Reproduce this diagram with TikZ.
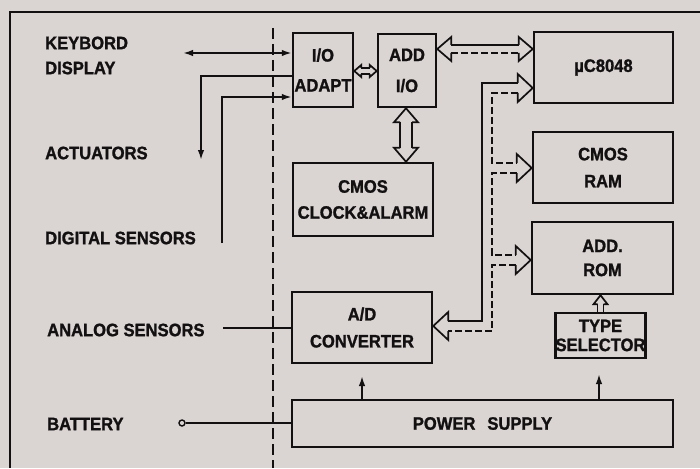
\documentclass[tikz,border=0pt]{standalone}
\usepackage{fontspec}
\setmainfont{Liberation Sans}[FakeStretch=0.92, BoldFeatures={FakeBold=1.3}]
\usetikzlibrary{calc,arrows.meta}
\definecolor{paper}{RGB}{218,212,211}
\definecolor{ink}{RGB}{18,16,16}
\newcommand\dgfont{\bfseries\fontsize{18}{22}\selectfont}
\newcommand\bxf[1]{\bfseries\fontsize{18}{#1}\selectfont}
\newcommand\hhead[5]{\draw[bus] ($(#1)+({-(#2)*(#3)},{-(#5)})$) -- ($(#1)+({-(#2)*(#3)},{-(#4)})$) -- (#1) -- ($(#1)+({-(#2)*(#3)},{#4})$) -- ($(#1)+({-(#2)*(#3)},{#5})$);}
\newcommand\vhead[5]{\draw[bus] ($(#1)+({-(#5)},{-(#2)*(#3)})$) -- ($(#1)+({-(#4)},{-(#2)*(#3)})$) -- (#1) -- ($(#1)+({#4},{-(#2)*(#3)})$) -- ($(#1)+({#5},{-(#2)*(#3)})$);}
\begin{document}
\begin{tikzpicture}[x=1pt,y=-1pt,
  box/.style={draw=ink, line width=2.5pt, align=center, inner sep=0pt, text=ink},
  lbl/.style={anchor=west, inner sep=0pt, font=\dgfont, text=ink},
  wire/.style={draw=ink, line width=1.8pt},
  bus/.style={draw=ink, line width=1.7pt},
  busd/.style={bus, dash pattern=on 7pt off 3pt},
  tip/.style={-{Latex[length=10pt,width=6.5pt]}},
  dtip/.style={{Latex[length=10pt,width=6.5pt]}-{Latex[length=10pt,width=6.5pt]}}]
\fill[paper] (0,0) rectangle (700,468);
\useasboundingbox (0,0) rectangle (700,468);
% frame and divider
\draw[ink, line width=2.6pt] (10,468) -- (10,12) -- (700,12);
\coordinate (divT) at (273,28);
\coordinate (divB) at (273,468);
\draw[ink, line width=1.5pt, dash pattern=on 11pt off 5pt] (divT) -- (divB);
% boxes
\node[box, minimum width=60pt, minimum height=74pt, font={\bxf{30}}] (ioa) at (323,70) {I/O\\ADAPT};
\node[box, minimum width=58pt, minimum height=73pt, font={\bxf{31}}] (addio) at (407,70.5) {ADD\\I/O};
\node[box, minimum width=139pt, minimum height=71pt, font={\bxf{22}}] (uc) at (603.5,67.5) {µC8048};
\node[box, minimum width=140pt, minimum height=71pt, font={\bxf{27}}] (ram) at (603,167.5) {CMOS\\RAM};
\node[box, minimum width=141pt, minimum height=72pt, font={\bxf{24}}] (rom) at (602.5,258) {ADD.\\ROM};
\node[box, minimum width=87pt, minimum height=45pt, font={\bxf{19}}] (typ) at (600.5,335.5) {TYPE\\SELECTOR};
\node[box, minimum width=140pt, minimum height=71pt, font={\bxf{27}}] (adc) at (362,327.5) {A/D\\CONVERTER};
\node[box, minimum width=140pt, minimum height=73pt, font={\bxf{26}}] (clk) at (363,199.5) {CMOS\\CLOCK\&ALARM};
\node[box, minimum width=381pt, minimum height=47pt, font={\bxf{22}}] (ps) at (482.5,423.5) {POWER\hspace{12pt}SUPPLY};
% left labels
\node[lbl] (kbd) at (45,43) {KEYBORD};
\node[lbl] (dsp) at (45,68) {DISPLAY};
\node[lbl] (act) at (45,153) {ACTUATORS};
\node[lbl] (dig) at (45,238) {DIGITAL SENSORS};
\node[lbl] (ana) at (47,330) {ANALOG SENSORS};
\node[lbl] (bat) at (47,424) {BATTERY};
% helper rows
\coordinate (y49) at (0,49);
\coordinate (y71) at (0,71);
\coordinate (y76) at (0,76);
\coordinate (y88) at (0,88);
\coordinate (y97) at (0,97);
\coordinate (y168) at (0,168);
\coordinate (y260) at (0,260);
\coordinate (y326) at (0,326);
\coordinate (xv) at (406,0);
% thin connectors
\coordinate (kbE) at (183,53);
\draw[wire, dtip] (kbE) -- (kbE -| ioa.west);
\coordinate (actE) at (201,160);
\draw[wire, tip] (ioa.west |- y76) -| (actE);
\coordinate (digE) at (222,243);
\draw[wire, tip] (digE) |- (ioa.west |- y97);
\coordinate (anaE) at (223,328);
\draw[wire] (anaE) -- (anaE -| adc.west);
\node[circle, draw=ink, line width=1.4pt, inner sep=0pt, minimum size=6pt, fill=paper] (batT) at (182,423) {};
\draw[wire] (batT.east) -- (batT -| ps.west);
\coordinate (pa1) at (362,376);
\draw[wire, tip] (pa1 |- ps.north) -- (pa1);
\coordinate (pa2) at (599,374);
\draw[wire, tip] (pa2 |- ps.north) -- (pa2);
% I/O ADAPT <-> ADD I/O
\coordinate (a1L) at (ioa.east |- y71);
\coordinate (a1R) at (addio.west |- y71);
\draw[bus] ($(a1L)+(7,-3)$) -- ($(a1R)+(-7,-3)$);
\draw[bus] ($(a1L)+(7,3)$) -- ($(a1R)+(-7,3)$);
\hhead{a1L}{-1}{7}{6}{3}
\hhead{a1R}{1}{7}{6}{3}
% ADD I/O <-> CLOCK
\coordinate (v1T) at (xv |- addio.south);
\coordinate (v1B) at (xv |- clk.north);
\draw[bus] ($(v1T)+(-6,14)$) -- ($(v1B)+(-6,-14)$);
\draw[bus] ($(v1T)+(6,14)$) -- ($(v1B)+(6,-14)$);
\vhead{v1T}{-1}{14}{12}{6}
\vhead{v1B}{1}{14}{12}{6}
% ADD I/O <-> uC
\coordinate (h2L) at (addio.east |- y49);
\coordinate (h2R) at (uc.west |- y49);
\draw[bus] ($(h2L)+(14,-4)$) -- ($(h2R)+(-14,-4)$);
\draw[busd] ($(h2L)+(14,4)$) -- ($(h2R)+(-14,4)$);
\hhead{h2L}{-1}{14}{12}{4}
\hhead{h2R}{1}{14}{12}{4}
% main bus
\coordinate (tUC) at (uc.west |- y88);
\coordinate (tRAM) at (ram.west |- y168);
\coordinate (tROM) at (rom.west |- y260);
\coordinate (tAD) at (adc.east |- y326);
\draw[bus] ($(tUC)+(-15,-5)$) -- (482,83) -- (482,321) -- ($(tAD)+(15,-5)$);
\draw[busd] ($(tUC)+(-15,5)$) -- (492,93) -- (492,163) -- ($(tRAM)+(-15,-5)$);
\draw[busd] ($(tRAM)+(-15,5)$) -- (492,173) -- (492,255) -- ($(tROM)+(-15,-5)$);
\draw[busd] ($(tROM)+(-15,5)$) -- (492,265) -- (492,331) -- ($(tAD)+(15,5)$);
\hhead{tUC}{1}{15}{14}{5}
\hhead{tRAM}{1}{15}{14}{5}
\hhead{tROM}{1}{15}{14}{5}
\hhead{tAD}{-1}{15}{14}{5}
% TYPE SELECTOR -> ADD. ROM
\coordinate (tT) at (typ.north |- rom.south);
\coordinate (tB) at (typ.north);
\draw[bus] ($(tB)+(-3,0)$) -- ($(tT)+(-3,9)$);
\draw[bus] ($(tB)+(3,0)$) -- ($(tT)+(3,9)$);
\vhead{tT}{-1}{9}{7}{3}
\end{tikzpicture}
\end{document}
